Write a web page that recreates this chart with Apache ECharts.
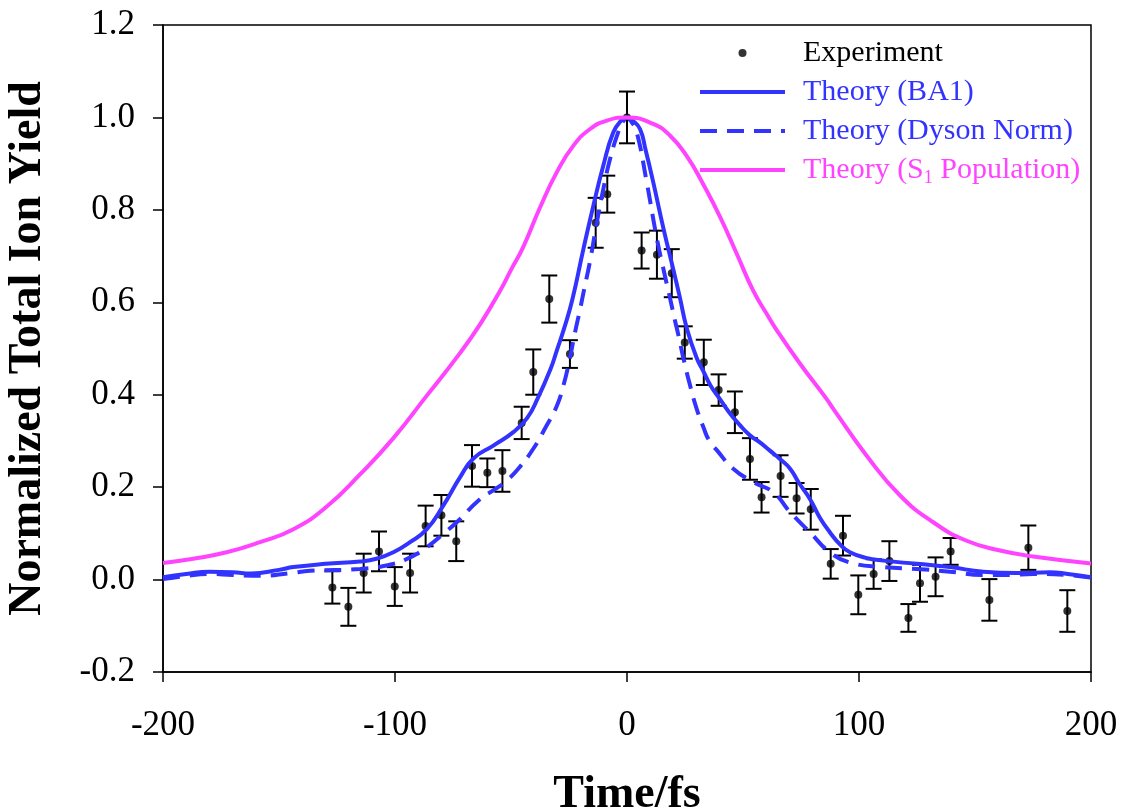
<!DOCTYPE html>
<html>
<head>
<meta charset="utf-8">
<script src="https://cdn.jsdelivr.net/npm/echarts@6/dist/echarts.min.js"></script>
<style>
html,body{margin:0;padding:0;background:#fff;}
#chart{width:1121px;height:810px;}
</style>
</head>
<body>
<div id="chart"></div>
<script>
// Experiment
var expX = [-127, -120.1, -113.5, -106.9, -100.1, -93.5, -86.8, -80.0, -73.6, -66.8, -60.2, -53.7, -45.4, -40.4, -33.5, -24.6, -13.5, -8.5, 0, 6.3, 12.9, 19.3, 24.9, 33.1, 39.5, 46.5, 53.0, 58.0, 66.2, 73.1, 79.2, 87.8, 93.1, 99.7, 106.3, 113.1, 121.3, 126.3, 133.0, 139.5, 156.2, 173.0, 189.8];
var expY = [-0.017, -0.059, 0.014, 0.061, -0.015, 0.014, 0.116, 0.139, 0.083, 0.246, 0.231, 0.235, 0.339, 0.449, 0.607, 0.488, 0.772, 0.834, 1.0, 0.712, 0.703, 0.663, 0.513, 0.470, 0.410, 0.362, 0.261, 0.178, 0.224, 0.176, 0.152, 0.034, 0.095, -0.033, 0.012, 0.040, -0.083, -0.008, 0.006, 0.061, -0.044, 0.069, -0.068];
var expErr = [0.035, 0.041, 0.042, 0.043, 0.042, 0.042, 0.044, 0.044, 0.043, 0.045, 0.031, 0.045, 0.035, 0.049, 0.051, 0.030, 0.054, 0.040, 0.056, 0.039, 0.052, 0.052, 0.035, 0.049, 0.034, 0.045, 0.045, 0.033, 0.045, 0.033, 0.044, 0.032, 0.043, 0.042, 0.032, 0.043, 0.030, 0.040, 0.042, 0.029, 0.045, 0.048, 0.045];

// Theory (BA1)
var ba1X = [-200, -190, -180, -170, -162, -150, -143.8, -130, -115, -108, -100.7, -93.5, -86.3, -79.2, -72, -66.2, -57.6, -49, -43, -38.5, -33, -30.3, -27, -23.5, -18.8, -14.5, -10.2, -5.9, -2.5, 0, 2.5, 5.6, 8, 11.3, 15.7, 20, 22.8, 25.7, 30, 33, 36, 40, 44, 48.7, 53, 57.3, 61.6, 65.9, 70.3, 74, 78.9, 83, 87.5, 92, 96.1, 103, 110.5, 124.9, 139.2, 153.6, 168, 182.3, 190, 200];
var ba1Y = [0.005, 0.012, 0.017, 0.016, 0.013, 0.021, 0.027, 0.034, 0.039, 0.045, 0.059, 0.081, 0.109, 0.160, 0.221, 0.262, 0.290, 0.319, 0.350, 0.392, 0.455, 0.495, 0.545, 0.607, 0.715, 0.809, 0.896, 0.968, 0.993, 1.0, 0.993, 0.975, 0.930, 0.860, 0.760, 0.670, 0.610, 0.545, 0.480, 0.450, 0.420, 0.391, 0.362, 0.334, 0.312, 0.297, 0.279, 0.261, 0.240, 0.210, 0.174, 0.135, 0.102, 0.075, 0.059, 0.047, 0.041, 0.034, 0.027, 0.017, 0.014, 0.016, 0.012, 0.005];

// Theory (Dyson Norm)
var dysX = [-200, -190, -180, -170, -158, -145, -136.6, -115, -100.7, -93.5, -86.3, -79.2, -73.4, -63.4, -57, -51.9, -46, -40.4, -35, -30.3, -27.4, -25, -22.4, -20, -18.8, -15.9, -13.1, -10, -7.3, -4, -1.5, 0, 2, 4.2, 8.5, 12.8, 16, 18.5, 20.7, 22.1, 24.5, 27.2, 30, 32.9, 35.5, 38.7, 45.8, 54.4, 63, 70.3, 78.9, 87.5, 96.1, 110.5, 124.9, 139.2, 153.6, 165, 175, 190, 200];
var dysY = [0.001, 0.008, 0.012, 0.010, 0.008, 0.014, 0.019, 0.023, 0.034, 0.048, 0.070, 0.099, 0.124, 0.174, 0.195, 0.214, 0.245, 0.283, 0.330, 0.375, 0.420, 0.470, 0.535, 0.590, 0.620, 0.690, 0.770, 0.850, 0.910, 0.965, 0.993, 1.0, 0.990, 0.968, 0.860, 0.740, 0.665, 0.610, 0.560, 0.530, 0.475, 0.420, 0.370, 0.330, 0.300, 0.280, 0.240, 0.211, 0.189, 0.146, 0.102, 0.059, 0.037, 0.027, 0.023, 0.017, 0.010, 0.010, 0.012, 0.010, 0.004];

// Theory (S1 Population)
var s1X = [-200, -187, -172.6, -158.2, -143.8, -129.4, -115, -100.7, -86.3, -72, -63, -54.7, -50, -44.7, -37.5, -30.3, -23.1, -15.9, -8.75, 0, 11.3, 18.5, 25.7, 32.9, 40.1, 47.3, 54.4, 60.2, 64.5, 74.6, 86, 89, 103.3, 117.7, 132, 146.4, 160.8, 175.1, 200];
var s1Y = [0.036, 0.045, 0.059, 0.081, 0.109, 0.158, 0.228, 0.306, 0.398, 0.490, 0.555, 0.625, 0.670, 0.720, 0.805, 0.881, 0.939, 0.975, 0.993, 1.0, 0.986, 0.961, 0.917, 0.855, 0.785, 0.705, 0.625, 0.575, 0.540, 0.467, 0.391, 0.369, 0.268, 0.182, 0.124, 0.084, 0.063, 0.050, 0.035];

var xTicks = [-200, -100, 0, 100, 200];
var yTicks = [-0.2, 0, 0.2, 0.4, 0.6, 0.8, 1.0, 1.2];

var names = ['Experiment', 'Theory (BA1)', 'Theory (Dyson Norm)', 'Theory (S1 Population)'];
var BLUE = '#3333ff', MAG = '#ff44ff';
var FONT = '"Liberation Serif", "Times New Roman", serif';

function zip(a, b) { return a.map(function (v, i) { return [v, b[i]]; }); }

var chart = echarts.init(document.getElementById('chart'));
chart.setOption({
  animation: false,
  backgroundColor: '#fff',
  grid: { left: 163, right: 30, top: 25, bottom: 138, show: true, borderColor: '#000', borderWidth: 1.5,
    containLabel: false, outerBoundsMode: 'none' },
  xAxis: {
    type: 'value', min: xTicks[0], max: xTicks[xTicks.length - 1], interval: 100,
    name: 'Time/fs', nameLocation: 'middle', nameGap: 100,
    nameTextStyle: { fontFamily: FONT, fontSize: 46, fontWeight: 'bold', color: '#000' },
    axisLine: { onZero: false, lineStyle: { color: '#000', width: 1.5 } },
    axisTick: { inside: false, length: 10, lineStyle: { color: '#000', width: 1.5 } },
    axisLabel: { fontFamily: FONT, fontSize: 35, color: '#000', margin: 36 },
    splitLine: { show: false }
  },
  yAxis: {
    type: 'value', min: yTicks[0], max: yTicks[yTicks.length - 1], interval: 0.2,
    name: 'Normalized Total Ion Yield', nameLocation: 'middle', nameGap: 112,
    nameTextStyle: { fontFamily: FONT, fontSize: 46, fontWeight: 'bold', color: '#000' },
    axisLine: { onZero: false, lineStyle: { color: '#000', width: 1.5 } },
    axisTick: { inside: false, length: 10, lineStyle: { color: '#000', width: 1.5 } },
    axisLabel: { fontFamily: FONT, fontSize: 35, color: '#000', margin: 28,
      formatter: function (v) { return v.toFixed(1); } },
    splitLine: { show: false }
  },
  legend: {
    orient: 'vertical', left: 693, top: 31, itemWidth: 85, itemHeight: 8, itemGap: 5,
    textStyle: { fontFamily: FONT, fontSize: 30, lineHeight: 34, padding: [0, 0, 0, 13],
      rich: { sub: { fontFamily: FONT, fontSize: 18, lineHeight: 18, color: MAG, verticalAlign: 'bottom' } } },
    formatter: function (n) { return n === names[3] ? 'Theory (S{sub|1} Population)' : n; },
    data: [
      { name: names[0], icon: 'circle', textStyle: { color: '#000' } },
      { name: names[1], itemStyle: { opacity: 0 }, lineStyle: { width: 4, color: BLUE }, textStyle: { color: BLUE } },
      { name: names[2], itemStyle: { opacity: 0 }, lineStyle: { width: 4, color: BLUE, type: [17, 10] }, textStyle: { color: BLUE } },
      { name: names[3], itemStyle: { opacity: 0 }, lineStyle: { width: 4, color: MAG }, textStyle: { color: MAG } }
    ]
  },
  series: [
    {
      name: 'errbars', type: 'custom', z: 2, silent: true,
      data: expX.map(function (x, i) { return [x, expY[i] - expErr[i], expY[i] + expErr[i]]; }),
      renderItem: function (params, api) {
        var lo = api.coord([api.value(0), api.value(1)]);
        var hi = api.coord([api.value(0), api.value(2)]);
        var hw = 8;
        var st = { stroke: '#000', lineWidth: 2 };
        return { type: 'group', children: [
          { type: 'line', shape: { x1: lo[0], y1: lo[1], x2: hi[0], y2: hi[1] }, style: st },
          { type: 'line', shape: { x1: lo[0] - hw, y1: lo[1], x2: lo[0] + hw, y2: lo[1] }, style: st },
          { type: 'line', shape: { x1: hi[0] - hw, y1: hi[1], x2: hi[0] + hw, y2: hi[1] }, style: st }
        ] };
      }
    },
    {
      name: names[0], type: 'scatter', z: 3, symbol: 'circle', symbolSize: 8, symbolKeepAspect: true,
      itemStyle: { color: '#000' }, data: zip(expX, expY)
    },
    {
      name: names[1], type: 'line', z: 4, showSymbol: false, symbol: 'none', smooth: 0.5,
      lineStyle: { color: BLUE, width: 4 }, itemStyle: { color: BLUE }, data: zip(ba1X, ba1Y)
    },
    {
      name: names[2], type: 'line', z: 4, showSymbol: false, symbol: 'none', smooth: 0.5,
      lineStyle: { color: BLUE, width: 4, type: [17, 10] }, itemStyle: { color: BLUE }, data: zip(dysX, dysY)
    },
    {
      name: names[3], type: 'line', z: 4, showSymbol: false, symbol: 'none', smooth: 0.5,
      lineStyle: { color: MAG, width: 4 }, itemStyle: { color: MAG }, data: zip(s1X, s1Y)
    }
  ]
});
</script>
</body>
</html>
